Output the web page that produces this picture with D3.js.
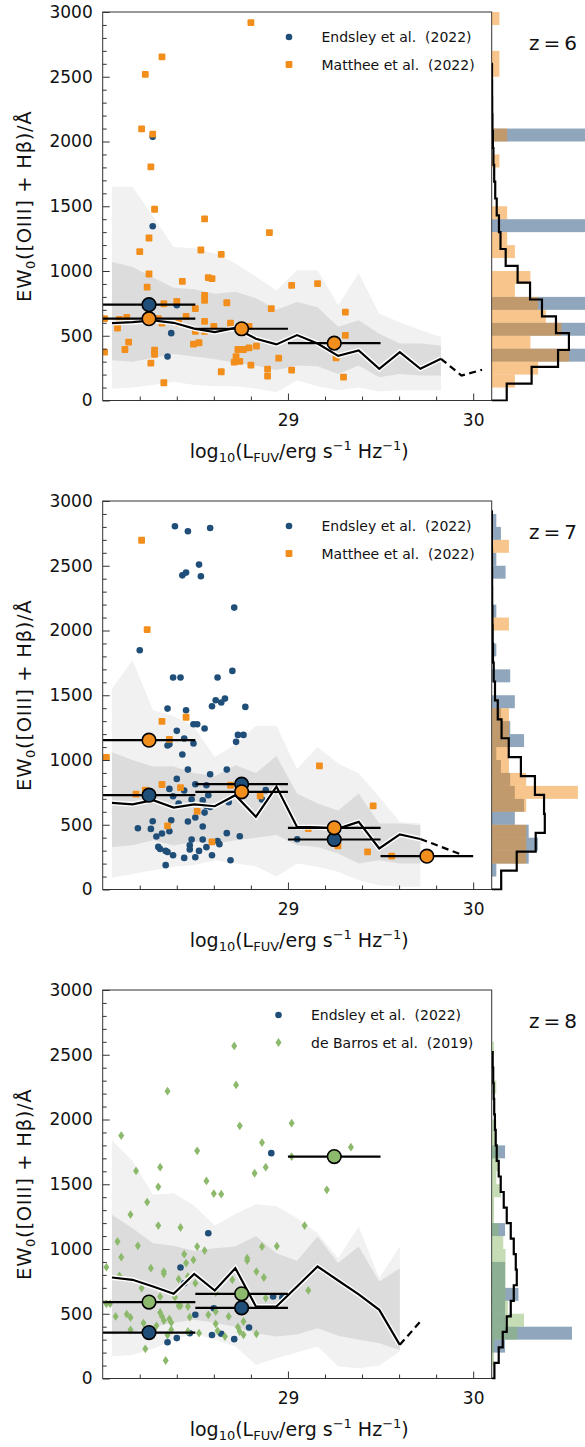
<!DOCTYPE html>
<html>
<head>
<meta charset="utf-8">
<script src="https://cdn.jsdelivr.net/npm/d3@7"></script>
<style>
  body { margin: 0; background: #fff; }
  text { font-family: "DejaVu Sans", Lato, sans-serif; fill: #111; }
</style>
</head>
<body>
<svg id="fig" width="585" height="1447"></svg>
<script>
// ---------- observed galaxies: [log10 L_FUV, EW0] ----------
const z6Endsley = [[28.27,2036],[28.27,1345],[28.40,735],[28.37,520],[28.35,340]];
const z6Matthee = [[28.80,2918],[28.32,2654],[28.23,2518],[28.21,2098],[28.27,2057],[28.26,1804],[28.28,1477],
  [28.55,1402],[28.90,1296],[28.25,1255],[28.20,1150],[28.53,1162],[28.64,1129],[28.25,977],[28.57,949],[28.59,941],
  [28.43,920],[29.02,889],[28.24,876],[28.55,812],[28.55,773],[28.40,765],[28.67,755],[28.33,747],[28.91,709],
  [28.50,709],[28.45,650],[28.01,632],[28.09,626],[28.13,642],[28.30,632],[28.55,611],[28.32,598],[28.41,598],
  [28.69,598],[28.08,559],[28.60,572],[28.79,572],[28.50,534],[28.55,534],[28.14,451],[28.52,446],[28.49,435],
  [28.01,374],[28.12,394],[28.28,389],[28.28,356],[28.26,289],[28.73,394],[28.76,394],[28.79,407],[28.83,420],
  [28.72,338],[28.71,296],[28.74,302],[28.80,273],[28.95,327],[28.64,222],[28.89,242],[28.89,188],[29.02,234],
  [28.33,137],[29.16,902],[29.31,683],[29.31,503],[29.26,330],[29.30,180]];

const z7Endsley = [[28.39,2805],[28.46,2766],[28.58,2792],[28.52,2509],[28.43,2426],[28.45,2447],[28.53,2419],
  [28.71,2177],[28.20,1847],[28.38,1637],[28.42,1637],[28.70,1688],[28.62,1637],[28.61,1461],[28.64,1444],
  [28.66,1474],[28.59,1415],[28.77,1410],[28.35,1397],[28.45,1384],[28.49,1276],[28.51,1276],[28.55,1243],
  [28.40,1225],[28.73,1194],[28.76,1194],[28.72,1140],[28.35,1112],[28.36,1122],[28.44,1166],[28.49,1127],
  [28.43,1042],[28.46,926],[28.67,926],[28.58,890],[28.40,854],[28.36,777],[28.38,720],[28.44,764],[28.50,813],
  [28.56,805],[28.48,695],[28.54,689],[28.57,728],[28.41,664],[28.56,645],[28.58,638],[28.55,594],[28.68,674],
  [28.86,695],[28.88,767],[28.50,556],[28.37,535],[28.27,527],[28.19,473],[28.26,468],[28.46,525],[28.54,486],
  [28.29,409],[28.32,432],[28.36,450],[28.48,386],[28.67,435],[28.74,411],[28.54,386],[28.62,375],[28.63,350],
  [28.47,342],[28.47,309],[28.30,329],[28.31,313],[28.34,298],[28.35,290],[28.52,298],[28.56,327],[28.38,265],
  [28.44,244],[28.50,249],[28.59,265],[28.69,226],[28.34,188],[29.05,388]];
const z7Matthee = [[28.21,2697],[28.24,2007],[28.32,1299],[28.45,1330],[28.36,1160],[28.02,1021],[28.32,811],
  [28.42,787],[28.69,805],[28.18,736],[28.23,767],[28.85,723],[28.74,752],[28.51,604],[28.35,491],[28.59,368],
  [29.17,954],[29.46,646],[29.11,471],[29.27,337],[29.43,290],[29.56,257]];

const z8Endsley = [[28.91,1740],[28.57,1122],[28.42,857],[28.44,736],[28.50,492],[28.60,543],[28.40,312],
  [28.35,280],[28.47,350],[28.59,336],[28.64,345],[28.71,304],[28.79,394],[28.92,633],[28.97,625]];
const z8DeBarros = [[28.71,2568],[28.72,2267],[28.35,2219],[28.74,1951],[29.02,1972],[28.10,1876],[28.86,1822],
  [28.51,1758],[28.31,1632],[28.88,1632],[28.18,1603],[28.82,1585],[28.56,1526],[28.30,1480],[28.60,1428],
  [28.64,1423],[28.24,1362],[28.15,1266],[28.30,1181],[28.42,1166],[28.08,1058],[28.19,1025],[28.51,1019],
  [28.55,988],[28.94,1022],[28.86,1019],[28.10,937],[28.44,960],[28.78,929],[28.78,911],[28.45,891],[28.49,916],
  [28.02,860],[28.26,852],[28.33,826],[28.33,808],[28.83,826],[28.87,780],[28.09,793],[28.50,736],[28.21,698],
  [28.70,762],[28.41,767],[28.46,787],[28.02,577],[28.04,577],[28.31,633],[28.39,628],[28.41,561],[28.42,561],
  [28.46,556],[28.61,664],[28.61,517],[28.88,621],[28.07,479],[28.13,497],[28.15,471],[28.31,510],[28.32,479],
  [28.33,448],[28.36,459],[28.37,432],[28.47,474],[28.52,350],[28.57,492],[28.61,422],[28.62,368],[28.66,324],
  [28.68,479],[28.73,397],[28.74,363],[28.76,337],[28.76,440],[28.83,345],[28.15,376],[28.22,428],[28.29,407],
  [28.37,376],[28.35,335],[28.46,363],[28.23,229],[28.34,139],[29.34,1786],[29.02,1714],[29.21,1457],
  [29.09,1181],[29.11,680]];

// ---------- binned medians of the observations: [bin centre, EW0] ----------
const z6EndsleyBinned = [[28.25,740]];
const z6MattheeBinned = [[28.25,632],[28.75,554],[29.25,443]];
const z7EndsleyBinned = [[28.25,728],[28.75,813],[29.25,386]];
const z7MattheeBinned = [[28.25,1153],[28.75,754],[29.25,476],[29.75,257]];
const z8EndsleyBinned = [[28.25,355],[28.75,546]];
const z8DeBarrosBinned = [[28.25,590],[28.75,654],[29.25,1714]];
const binHalfWidth = 0.25;

// ---------- simulated population: median and percentile bands vs luminosity ----------
const lumGrid = [28.05,28.161,28.272,28.383,28.494,28.605,28.716,28.827,28.938,29.049,29.16,29.271,29.382,
  29.493,29.604,29.715,29.826,29.937,30.048];

const z6Median = [598,605,618,600,555,528,560,477,433,505,440,345,387,245,374,245,322,193,237];
const z6Outer  = [[90,1650],[100,1650],[120,1420],[145,1185],[120,1175],[110,1135],[110,1060],[90,955],[65,850],
  [155,1005],[110,1005],[80,735],[100,985],[70,670],[80,605],[80,545],[80,490]];
const z6Inner  = [[310,1070],[300,1030],[330,950],[360,870],[340,860],[320,825],[290,840],[270,790],[235,700],
  [270,760],[265,720],[205,570],[270,620],[180,515],[205,440],[193,440],[193,425]];

const z7Median = [669,658,690,633,658,643,728,561,795,483,480,470,522,317,425,390,330,270];
const z7Outer  = [[90,1552],[120,1770],[149,1384],[175,1340],[190,1255],[226,1024],[201,1120],[180,1265],
  [100,1265],[201,930],[175,1101],[137,973],[72,896],[33,715],[21,522],[21,510]];
const z7Inner  = [[329,1060],[342,1000],[381,950],[340,950],[368,900],[355,875],[381,960],[400,900],[420,1030],
  [342,741],[329,664],[278,610],[201,741],[226,510],[201,510],[201,497]];

const z8Median = [780,762,710,654,808,679,852,556,556,710,865,757,650,530,260,440];
const z8Outer  = [[170,1840],[182,1680],[230,1418],[298,1431],[350,1335],[300,1180],[250,1270],[106,1345],
  [157,1330],[200,1240],[247,1122],[93,929],[80,1173],[100,775],[209,1019]];
const z8Inner  = [[340,1264],[360,1160],[400,1045],[430,1025],[453,985],[430,1005],[400,1019],[350,1100],
  [324,967],[340,910],[389,1096],[330,891],[300,1019],[273,749],[221,852]];

// simulated EW0 distribution (probability density per Å)
const z6ModelEdges = [0,130,260,390,520,650,780,910,1040,1170,1300,1430,1560,1690,1820,1950,2080,2210,2340,2470,2600];
const z6ModelDensity = [2.9e-4,7.7e-4,1.28e-3,1.49e-3,1.24e-3,9.7e-4,7.4e-4,5.0e-4,2.7e-4,1.7e-4,1.4e-4,9.7e-5,
  6.8e-5,4.8e-5,3.3e-5,2.3e-5,1.5e-5,1.0e-5,8e-6,6e-6];
const z7ModelEdges = [0,146,292,438,584,730,876,1022,1168,1314,1460,1606,1752,1898,2044,2190,2336,2482,2628,2774,2920];
const z7ModelDensity = [2.5e-4,6.6e-4,1.16e-3,1.40e-3,1.38e-3,1.14e-3,7.7e-4,4.5e-4,2.6e-4,1.6e-4,8.7e-5,5.3e-5,
  3.4e-5,2.6e-5,1.9e-5,1.3e-5,1.1e-5,8e-6,6e-6,5e-6];
const z8ModelEdges = [0,120,240,360,480,600,720,840,960,1080,1200,1320,1440,1560,1680,1800,1920,2040,2160,2280,2400,2520];
const z8ModelDensity = [1.35e-4,3.5e-4,5.5e-4,7.5e-4,9.5e-4,1.1e-3,1.25e-3,1.2e-3,1.1e-3,9.5e-4,7.5e-4,6e-4,
  4.5e-4,3.5e-4,2.5e-4,2e-4,1.6e-4,1.25e-4,1e-4,7.5e-5,5e-5];

// ---------- axis ticks ----------
const ewMajorTicks = [0,500,1000,1500,2000,2500,3000];
const ewMinorTicks = [100,200,300,400,600,700,800,900,1100,1200,1300,1400,1600,1700,1800,1900,2100,2200,2300,
  2400,2600,2700,2800,2900];
const lumMajorTicks = [29,30];
const lumMinorTicks = [28.2,28.4,28.6,28.8,29.2,29.4,29.6,29.8];
const ewDomain = [0,3000];
const lumDomain = [28.0,30.1];
const histBinEdges = [0,100,200,300,400,500,600,700,800,900,1000,1100,1200,1300,1400,1500,1600,1700,1800,1900,
  2000,2100,2200,2300,2400,2500,2600,2700,2800,2900,3000];

// ---------- styling ----------
const cBlue = "#1f4e79", cOrange = "#f28e1c", cGreen = "#8cb96b";
const bandOuter = "#f1f1f1", bandInner = "#dcdcdc";
const fontFamily = "'DejaVu Sans', Lato, sans-serif";

const panels = [
  { top: 12, tag: "6", median: z6Median, solidTo: 16, outer: z6Outer, inner: z6Inner,
    edges: z6ModelEdges, model: z6ModelDensity, histMax: 0.0018, legendX: 289,
    series: [
      { label: "Endsley et al.  (2022)", pts: z6Endsley, binned: z6EndsleyBinned, shape: "circle", color: cBlue },
      { label: "Matthee et al.  (2022)", pts: z6Matthee, binned: z6MattheeBinned, shape: "square", color: cOrange }] },
  { top: 501, tag: "7", median: z7Median, solidTo: 15, outer: z7Outer, inner: z7Inner,
    edges: z7ModelEdges, model: z7ModelDensity, histMax: 0.00246, legendX: 289,
    series: [
      { label: "Endsley et al.  (2022)", pts: z7Endsley, binned: z7EndsleyBinned, shape: "circle", color: cBlue },
      { label: "Matthee et al.  (2022)", pts: z7Matthee, binned: z7MattheeBinned, shape: "square", color: cOrange }] },
  { top: 990, tag: "8", median: z8Median, solidTo: 14, outer: z8Outer, inner: z8Inner,
    edges: z8ModelEdges, model: z8ModelDensity, histMax: 0.00465, legendX: 278.5,
    series: [
      { label: "Endsley et al.  (2022)", pts: z8Endsley, binned: z8EndsleyBinned, shape: "circle", color: cBlue },
      { label: "de Barros et al.  (2019)", pts: z8DeBarros, binned: z8DeBarrosBinned, shape: "diamond", color: cGreen }] }
];

const axLeft = 102.7, axRight = 491.7, axH = 388.5, histRight = 585;
const svg = d3.select("#fig");
const defs = svg.append("defs");

function marker(sel, shape, color) {
  if (shape === "circle") {
    sel.append("circle").attr("r", 3.3).attr("fill", color);
  } else if (shape === "square") {
    sel.append("rect").attr("x", -3.4).attr("y", -3.4).attr("width", 6.8).attr("height", 6.8)
      .attr("rx", 1).attr("fill", color);
  } else {
    sel.append("path").attr("d", "M0,-4.4L3,0L0,4.4L-3,0Z").attr("fill", color);
  }
}

panels.forEach((p, i) => {
  const top = p.top, bottom = top + axH;
  const x = d3.scaleLinear().domain(lumDomain).range([axLeft, axRight]);
  const y = d3.scaleLinear().domain(ewDomain).range([bottom, top]);
  const hx = d3.scaleLinear().domain([0, p.histMax]).range([axRight, histRight]);

  defs.append("clipPath").attr("id", "main" + i)
    .append("rect").attr("x", axLeft).attr("y", top).attr("width", axRight - axLeft).attr("height", axH);
  defs.append("clipPath").attr("id", "hist" + i)
    .append("rect").attr("x", axRight).attr("y", top - 1).attr("width", histRight - axRight).attr("height", axH + 2);

  const g = svg.append("g").attr("clip-path", `url(#main${i})`);
  const n = p.solidTo + 1;
  const gridSolid = lumGrid.slice(0, n);

  // percentile bands
  const area = d3.area().x((d, k) => x(gridSolid[k])).y0(d => y(d[0])).y1(d => y(d[1]));
  g.append("path").attr("d", area(p.outer)).attr("fill", bandOuter);
  g.append("path").attr("d", area(p.inner)).attr("fill", bandInner);

  // observed galaxies
  p.series.forEach(s => {
    s.pts.forEach(d => {
      const m = g.append("g").attr("transform", `translate(${x(d[0])},${y(d[1])})`);
      marker(m, s.shape, s.color);
    });
  });

  // simulated median
  const line = d3.line().x(d => x(d[0])).y(d => y(d[1]));
  const medPts = p.median.map((v, k) => [lumGrid[k], v]);
  const solid = medPts.slice(0, n), dashed = medPts.slice(p.solidTo);
  g.append("path").attr("d", line(solid)).attr("fill", "none").attr("stroke", "#fff")
    .attr("stroke-width", 5).attr("stroke-linejoin", "miter");
  g.append("path").attr("d", line(solid)).attr("fill", "none").attr("stroke", "#000")
    .attr("stroke-width", 2.2).attr("stroke-linejoin", "miter");
  g.append("path").attr("d", line(dashed)).attr("fill", "none").attr("stroke", "#000")
    .attr("stroke-width", 2.2).attr("stroke-dasharray", "7,4.5");

  // binned medians with bin widths
  p.series.forEach(s => {
    s.binned.forEach(d => {
      g.append("line").attr("x1", x(d[0] - binHalfWidth)).attr("x2", x(d[0] + binHalfWidth))
        .attr("y1", y(d[1])).attr("y2", y(d[1])).attr("stroke", "#000").attr("stroke-width", 2.2);
    });
  });
  p.series.forEach(s => {
    s.binned.forEach(d => {
      g.append("circle").attr("cx", x(d[0])).attr("cy", y(d[1])).attr("r", 6.8)
        .attr("fill", s.color).attr("stroke", "#000").attr("stroke-width", 1.6);
    });
  });

  // axes frame
  svg.append("rect").attr("x", axLeft).attr("y", top).attr("width", axRight - axLeft).attr("height", axH)
    .attr("fill", "none").attr("stroke", "#333").attr("stroke-width", 1);

  // y axis (ticks pointing inward)
  const yMaj = svg.append("g").attr("transform", `translate(${axLeft},0)`)
    .call(d3.axisLeft(y).tickValues(ewMajorTicks).tickSize(-7).tickPadding(10).tickFormat(d3.format("d")));
  const yMin = svg.append("g").attr("transform", `translate(${axLeft},0)`)
    .call(d3.axisLeft(y).tickValues(ewMinorTicks).tickSize(-4).tickFormat(""));
  // x axis
  const xMaj = svg.append("g").attr("transform", `translate(0,${bottom})`)
    .call(d3.axisBottom(x).tickValues(lumMajorTicks).tickSize(-7).tickPadding(13).tickFormat(d3.format("d")));
  const xMin = svg.append("g").attr("transform", `translate(0,${bottom})`)
    .call(d3.axisBottom(x).tickValues(lumMinorTicks).tickSize(-4).tickFormat(""));
  [yMaj, yMin, xMaj, xMin].forEach(a => {
    a.select(".domain").remove();
    a.selectAll(".tick line").attr("stroke", "#333");
    a.selectAll("text").attr("font-size", 17).attr("fill", "#111").attr("font-family", fontFamily);
  });

  // axis titles
  const yl = svg.append("text").attr("text-anchor", "middle").attr("font-size", 19.5)
    .attr("letter-spacing", 0.7)
    .attr("transform", `translate(31,${top + axH / 2}) rotate(-90)`);
  yl.append("tspan").text("EW");
  yl.append("tspan").attr("font-size", 13).attr("dy", 4).text("0");
  yl.append("tspan").attr("dy", -4).text("([OIII] + Hβ)/Å");

  const xl = svg.append("text").attr("text-anchor", "middle").attr("font-size", 19)
    .attr("x", (axLeft + axRight) / 2 + 2).attr("y", bottom + 57);
  xl.append("tspan").text("log");
  xl.append("tspan").attr("font-size", 13).attr("dy", 4).text("10");
  xl.append("tspan").attr("dy", -4).text("(L");
  xl.append("tspan").attr("font-size", 13).attr("dy", 4).text("FUV");
  xl.append("tspan").attr("dy", -4).text("/erg s");
  xl.append("tspan").attr("font-size", 13).attr("dy", -8).text("−1");
  xl.append("tspan").attr("dy", 8).text(" Hz");
  xl.append("tspan").attr("font-size", 13).attr("dy", -8).text("−1");
  xl.append("tspan").attr("dy", 8).text(")");

  // legend
  p.series.forEach((s, k) => {
    const ly = top + 25 + k * 27.5;
    const m = svg.append("g").attr("transform", `translate(${p.legendX},${ly})`);
    marker(m, s.shape, s.color);
    svg.append("text").attr("x", p.legendX + 32.5).attr("y", ly + 5).attr("font-size", 14)
      .attr("xml:space", "preserve").style("white-space", "pre").text(s.label);
  });

  // redshift tag
  svg.append("text").attr("x", 553).attr("y", top + 38).attr("text-anchor", "middle").attr("font-size", 20)
    .attr("xml:space", "preserve").style("white-space", "pre").text("z\u2009=\u2009" + p.tag);

  // side histograms of EW0
  const hg = svg.append("g").attr("clip-path", `url(#hist${i})`);
  const binner = d3.bin().value(d => d[1]).domain(ewDomain).thresholds(histBinEdges.slice(1, -1));
  p.series.forEach(s => {
    const bins = binner(s.pts);
    const total = s.pts.length;
    hg.selectAll(null).data(bins.filter(b => b.length > 0)).join("rect")
      .attr("x", hx(0)).attr("y", b => y(b.x1))
      .attr("width", b => hx(b.length / (total * (b.x1 - b.x0))) - hx(0))
      .attr("height", b => y(b.x0) - y(b.x1))
      .attr("fill", s.color).attr("fill-opacity", 0.5);
  });
  const stepPts = [[0, p.edges[0]]];
  p.model.forEach((v, k) => { stepPts.push([v, p.edges[k]]); stepPts.push([v, p.edges[k + 1]]); });
  stepPts.push([0, p.edges[p.edges.length - 1]]);
  hg.append("path").attr("d", d3.line().x(d => hx(d[0])).y(d => y(d[1]))(stepPts))
    .attr("fill", "none").attr("stroke", "#000").attr("stroke-width", 2.2);
});
</script>
</body>
</html>
